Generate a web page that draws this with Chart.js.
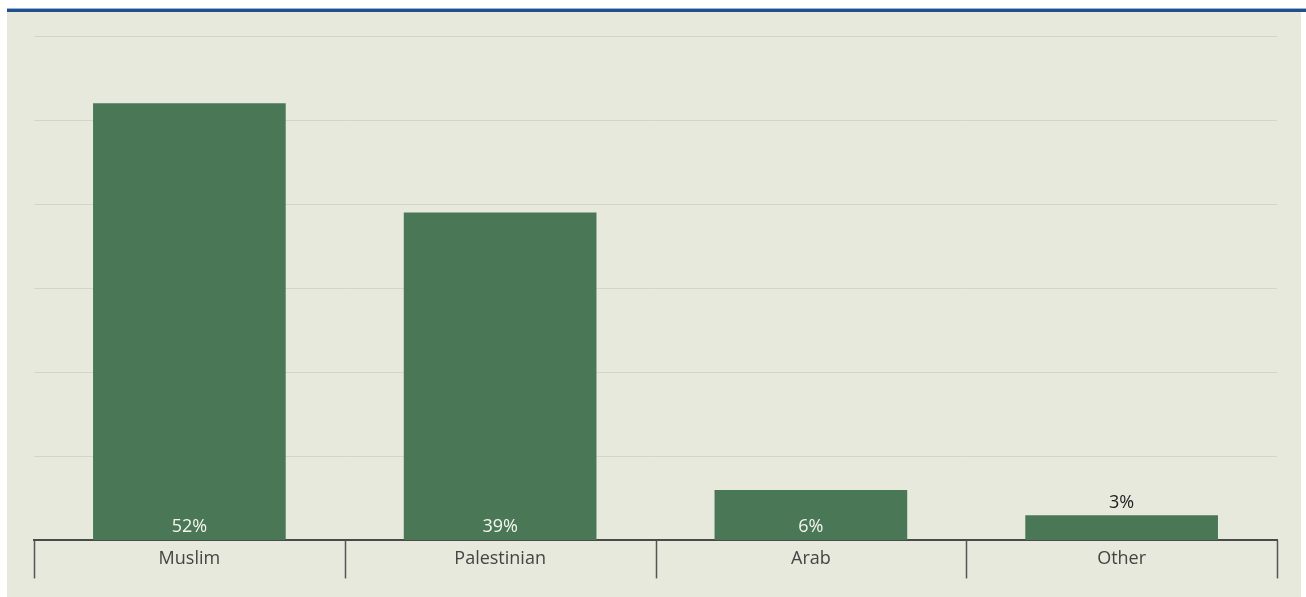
<!DOCTYPE html>
<html>
<head>
<meta charset="utf-8">
<script src="https://cdn.jsdelivr.net/npm/chart.js@4/dist/chart.umd.min.js"></script>
<style>
  body{margin:0;background:#fff;width:1306px;height:597px;overflow:hidden;position:relative;}
  .topline{position:absolute;left:7px;top:8px;width:1299px;height:3px;background:#1f4f8f;border-top:1px solid #9fb3cf;}
  .panel{position:absolute;left:7px;top:12px;width:1294px;height:585px;background:#e6e9dc;}
  canvas{display:block;}
</style>
</head>
<body>
<div class="topline"></div>
<div class="panel"><canvas id="bars" width="1294" height="585"></canvas></div>
<script>
const categories=['Muslim','Palestinian','Arab','Other'];
const shares=[52,39,6,3];
const yTicks=[0,10,20,30,40,50,60];
const FONT='"Open Sans", "DejaVu Sans", sans-serif';

// value labels: inside the bar when it is tall enough, above it otherwise
const barLabels={
  id:'barLabels',
  afterDatasetsDraw(chart){
    const ctx=chart.ctx;
    const meta=chart.getDatasetMeta(0);
    ctx.save();
    ctx.font='18px '+FONT;
    ctx.textAlign='center';
    ctx.textBaseline='alphabetic';
    meta.data.forEach((bar,i)=>{
      const v=shares[i];
      if(bar.base-bar.y>30){
        ctx.fillStyle='#f4f6ef';
        ctx.fillText(v+'%',bar.x,bar.base-8);
      }else{
        ctx.fillStyle='#1e1e1e';
        ctx.fillText(v+'%',bar.x,bar.y-7);
      }
    });
    ctx.restore();
  }
};

// long separators between categories, hanging under the axis line
const separators={
  id:'separators',
  afterDraw(chart){
    const ctx=chart.ctx,x=chart.scales.x,y0=chart.chartArea.bottom;
    ctx.save();
    ctx.strokeStyle='#555';
    ctx.lineWidth=1.5;
    for(let i=0;i<=categories.length;i++){
      const px=Math.round(x.getPixelForValue(i-0.5))+0.5;
      ctx.beginPath();
      ctx.moveTo(px,y0);
      ctx.lineTo(px,y0+38);
      ctx.stroke();
    }
    ctx.restore();
  }
};

new Chart(document.getElementById('bars'),{
  type:'bar',
  data:{
    labels:categories,
    datasets:[{data:shares,backgroundColor:'#4a7756',borderWidth:0,
      categoryPercentage:1,barPercentage:0.62}]
  },
  options:{
    responsive:false,
    animation:false,
    layout:{padding:{left:27,right:24,top:24,bottom:27}},
    plugins:{legend:{display:false},tooltip:{enabled:false}},
    scales:{
      x:{
        grid:{display:false},
        border:{display:true,color:'#4a4a4a',width:2},
        ticks:{padding:0,color:'#444',font:{family:FONT,size:18,lineHeight:1.2}}
      },
      y:{
        min:0,max:60,
        afterBuildTicks(axis){axis.ticks=yTicks.map(v=>({value:v}));},
        grid:{color:'#d2d5c8',lineWidth:1,drawTicks:false},
        border:{display:false},
        ticks:{display:false}
      }
    }
  },
  plugins:[barLabels,separators]
});
</script>
</body>
</html>
